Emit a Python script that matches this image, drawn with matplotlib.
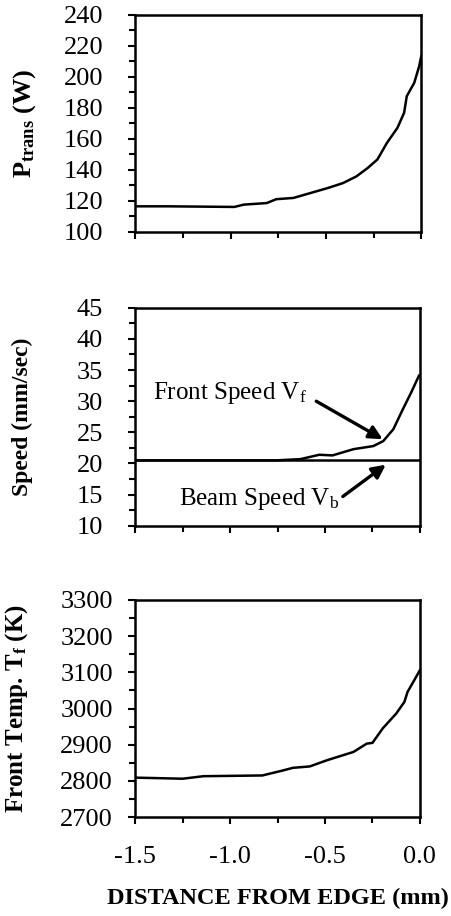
import numpy as np
from matplotlib import pyplot as plt
from matplotlib.ticker import MultipleLocator

plt.rcParams['font.family'] = ['Liberation Serif', 'DejaVu Serif']
plt.rcParams['mathtext.fontset'] = 'custom'
plt.rcParams['mathtext.rm'] = 'Liberation Serif'
plt.rcParams['mathtext.it'] = 'Liberation Serif:italic'
plt.rcParams['mathtext.bf'] = 'Liberation Serif:bold'
plt.rcParams['axes.unicode_minus'] = False

# transmitted power vs distance from edge
x_p = [-1.5, -1.33, -0.98, -0.93, -0.81, -0.76, -0.67, -0.58, -0.49, -0.41,
       -0.34, -0.28, -0.23, -0.18, -0.125, -0.09, -0.076, -0.037, -0.011, 0.0]
p_trans = [116.4, 116.4, 116.0, 117.5, 118.5, 121.0, 121.8, 125.0, 128.2, 131.4,
           135.7, 141.2, 146.6, 157.3, 167.0, 176.7, 187.4, 196.0, 206.7, 213.2]

# front speed and beam speed
beam_speed = 20.5
x_v = [-1.5, -0.76, -0.63, -0.53, -0.46, -0.35, -0.245, -0.193, -0.14, -0.09, -0.046, -0.005]
v_front = [20.5, 20.5, 20.7, 21.4, 21.3, 22.3, 22.8, 23.6, 25.5, 28.7, 31.4, 34.1]

# front temperature
x_t = [-1.5, -1.25, -1.14, -0.98, -0.83, -0.72, -0.67, -0.58, -0.49, -0.35,
       -0.28, -0.25, -0.196, -0.125, -0.082, -0.065, -0.03, 0.0]
t_front = [2809, 2806, 2813, 2814, 2815, 2829, 2836, 2840, 2857, 2880,
           2903, 2905, 2945, 2986, 3018, 3046, 3078, 3106]

fig = plt.figure(figsize=(4.52, 9.16), dpi=100)
ax1 = fig.add_axes([0.299, 0.747, 0.633, 0.237])
ax2 = fig.add_axes([0.299, 0.426, 0.630, 0.238])
ax3 = fig.add_axes([0.299, 0.108, 0.630, 0.237])

for ax in (ax1, ax2, ax3):
    ax.set_xlim(-1.5, 0.0)
    ax.xaxis.set_major_locator(MultipleLocator(0.5))
    ax.xaxis.set_minor_locator(MultipleLocator(0.25))
    for s in ax.spines.values():
        s.set_linewidth(1.8)
    ax.tick_params(axis='both', which='both', direction='out', width=1.5, labelsize=19)
    ax.tick_params(axis='both', which='major', length=5)
    ax.tick_params(axis='both', which='minor', length=4)
    ax.tick_params(axis='y', pad=18)

ax1.plot(x_p, p_trans, color='black', lw=1.8)
ax1.set_ylim(100, 240)
ax1.yaxis.set_major_locator(MultipleLocator(20))
ax1.yaxis.set_minor_locator(MultipleLocator(10))
ax1.set_xticklabels([])
ax1.set_ylabel(r'$\mathbf{P_{trans}}$ (W)', fontsize=19, fontweight='bold')
ax1.yaxis.set_label_coords(-0.34, 0.5)

ax2.axhline(beam_speed, color='black', lw=1.8)
ax2.plot(x_v, v_front, color='black', lw=1.8)
ax2.set_ylim(10, 45)
ax2.yaxis.set_major_locator(MultipleLocator(5))
ax2.yaxis.set_minor_locator(MultipleLocator(2.5))
ax2.set_xticklabels([])
ax2.set_ylabel('Speed (mm/sec)', fontsize=17, fontweight='bold')
ax2.yaxis.set_label_coords(-0.36, 0.5)
ax2.text(-1.405, 31.3, r'Front Speed V$_\mathrm{f}$', fontsize=18, va='center', ha='left')
ax2.annotate('', xy=(-0.196, 23.9), xytext=(-0.546, 30.0),
             arrowprops=dict(arrowstyle='-|>', color='black', lw=2.4,
                             mutation_scale=20, shrinkA=0, shrinkB=0))
ax2.text(-1.27, 14.3, r'Beam Speed V$_\mathrm{b}$', fontsize=18, va='center', ha='left')
ax2.annotate('', xy=(-0.18, 19.8), xytext=(-0.406, 14.7),
             arrowprops=dict(arrowstyle='-|>', color='black', lw=2.4,
                             mutation_scale=20, shrinkA=0, shrinkB=0))

ax3.plot(x_t, t_front, color='black', lw=1.8)
ax3.set_ylim(2700, 3300)
ax3.yaxis.set_major_locator(MultipleLocator(100))
ax3.yaxis.set_minor_locator(MultipleLocator(50))
ax3.set_ylabel(r'Front Temp. T$_\mathbf{f}$ (K)', fontsize=18, fontweight='bold')
ax3.yaxis.set_label_coords(-0.37, 0.5)
ax3.tick_params(axis='y', pad=11)
ax3.tick_params(axis='x', pad=16)
ax3.set_xlabel('DISTANCE FROM EDGE (mm)', fontsize=17.5, fontweight='bold', labelpad=14)

fig.savefig('out.png', dpi=100)
